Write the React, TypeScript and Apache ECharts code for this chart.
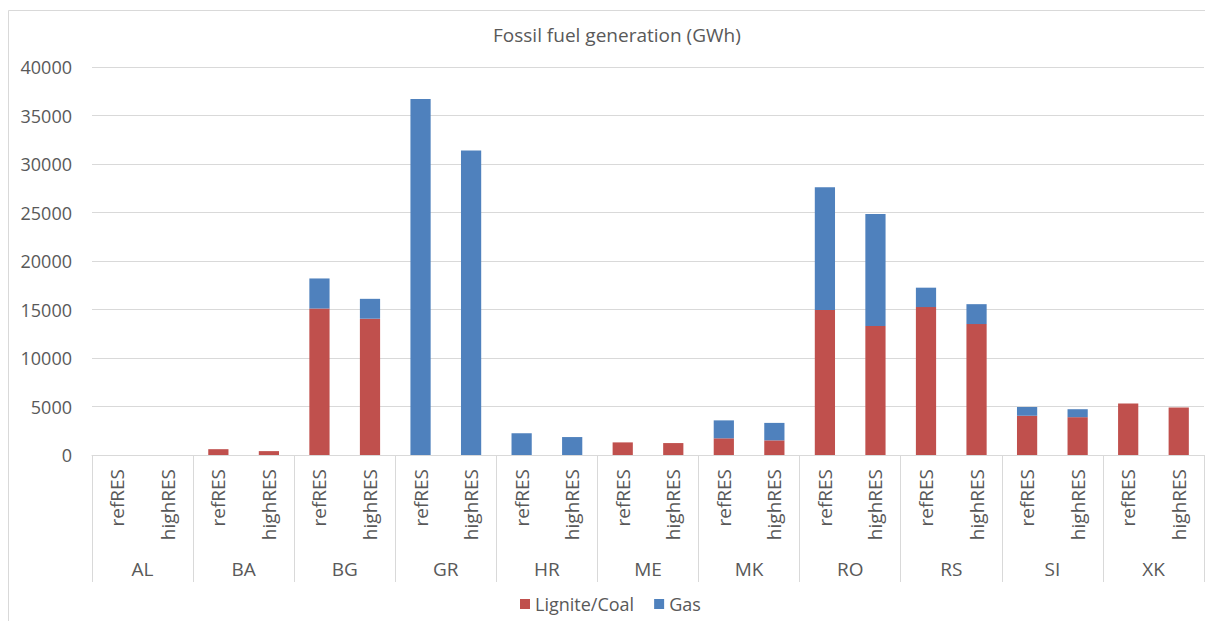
import React, { useEffect, useRef } from "react";
import * as echarts from "echarts";

const countries = ["AL", "BA", "BG", "GR", "HR", "ME", "MK", "RO", "RS", "SI", "XK"];
const scenarios = ["refRES", "highRES"];
const coal = [0, 0, 600, 400, 15100, 14050, 0, 0, 0, 0, 1300, 1230, 1720, 1510, 14950, 13300, 15250, 13500, 4050, 3900, 5300, 4900];
const gas = [0, 0, 0, 0, 3100, 2050, 36700, 31400, 2250, 1850, 0, 0, 1850, 1800, 12650, 11550, 2000, 2050, 900, 820, 0, 0];
const yTicks = [0, 5000, 10000, 15000, 20000, 25000, 30000, 35000, 40000];

const FONT = "'Open Sans', sans-serif";
const TEXT = "#595959";
const GRID = "#D9D9D9";

export default function App() {
  const ref = useRef<HTMLDivElement>(null);
  useEffect(() => {
    document.body.style.margin = "0";
    const chart = echarts.init(ref.current!, null, { renderer: "svg" });
    const inner: string[] = [];
    countries.forEach(() => scenarios.forEach((s) => inner.push(s)));
    chart.setOption({
      animation: false,
      backgroundColor: "#fff",
      textStyle: { fontFamily: FONT },
      title: {
        text: "Fossil fuel generation (GWh)",
        left: 488,
        top: 20,
        textStyle: { fontFamily: FONT, fontSize: 19, fontWeight: "normal", color: TEXT },
      },
      graphic: [
        {
          type: "rect",
          shape: { x: 8.5, y: 10.5, width: 1300, height: 700 },
          style: { fill: "none", stroke: GRID, lineWidth: 1 },
          silent: true,
        },
      ],
      legend: {
        bottom: 3,
        left: 515,
        icon: "rect",
        itemWidth: 10,
        itemHeight: 10,
        itemGap: 20,
        textStyle: { fontFamily: FONT, fontSize: 18, color: TEXT },
        data: ["Lignite/Coal", "Gas"],
      },
      grid: { left: 92, right: 1, top: 67, bottom: 166, containLabel: false },
      xAxis: [
        {
          type: "category",
          data: inner,
          axisLine: { show: true, lineStyle: { color: GRID } },
          axisTick: { show: false },
          axisLabel: {
            rotate: 90,
            interval: 0,
            margin: 14,
            fontFamily: FONT,
            fontSize: 19,
            color: TEXT,
          },
        },
        {
          type: "category",
          data: countries,
          position: "bottom",
          axisLine: { show: false },
          axisTick: { show: true, interval: 0, length: 127, lineStyle: { color: GRID } },
          axisLabel: {
            interval: 0,
            margin: 104,
            fontFamily: FONT,
            fontSize: 19,
            color: TEXT,
          },
        },
      ],
      yAxis: {
        type: "value",
        min: 0,
        max: 40000,
        interval: 5000,
        axisLine: { show: false },
        axisTick: { show: false },
        splitLine: { lineStyle: { color: GRID } },
        axisLabel: {
          margin: 20,
          fontFamily: FONT,
          fontSize: 18,
          color: TEXT,
          formatter: (v: number) => (yTicks.includes(v) ? String(v) : ""),
        },
      },
      series: [
        {
          name: "Lignite/Coal",
          type: "bar",
          stack: "total",
          xAxisIndex: 0,
          barWidth: "40%",
          itemStyle: { color: "#C0504D" },
          data: coal,
        },
        {
          name: "Gas",
          type: "bar",
          stack: "total",
          xAxisIndex: 0,
          barWidth: "40%",
          itemStyle: { color: "#4F81BD" },
          data: gas,
        },
      ],
    });
    return () => chart.dispose();
  }, []);
  return <div ref={ref} style={{ width: 1205, height: 621 }} />;
}
